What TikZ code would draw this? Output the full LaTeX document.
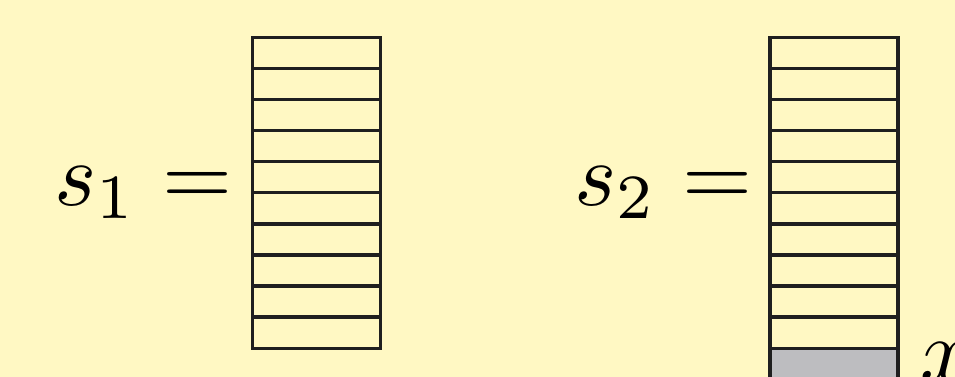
\documentclass[tikz,border=0pt]{standalone}
\begin{document}
\begin{tikzpicture}[x=1pt,y=1pt,
  cell/.style={draw=black!88, line width=3.4pt, fill=none},
  lab/.style={scale=9, inner sep=0pt, anchor=base west}]
\definecolor{bg}{HTML}{FFF8C3}
\definecolor{graycell}{HTML}{BDBDC0}
\useasboundingbox (0,0) rectangle (955,377);
\clip (0,0) rectangle (955,377);
\fill[bg] (0,0) rectangle (955,377);
% left stack
\foreach \i in {0,...,9} {
  \draw[cell] (252.5,{339.7-31.1*\i}) rectangle ++(128,-31.1);
}
% right stack
\fill[graycell] (770,28.7) rectangle (898,-10);
\foreach \i in {0,...,9} {
  \draw[cell] (770,{339.7-31.1*\i}) rectangle ++(128,-31.1);
}
\draw[cell] (770,28.7) rectangle (898,-10);
\node[lab] (s1) at (53,172) {$s_1 =$};
\node[lab] (s2) at (573,172) {$s_2 =$};
\node[lab] (x) at (919,-4) {$x$};
\end{tikzpicture}
\end{document}
